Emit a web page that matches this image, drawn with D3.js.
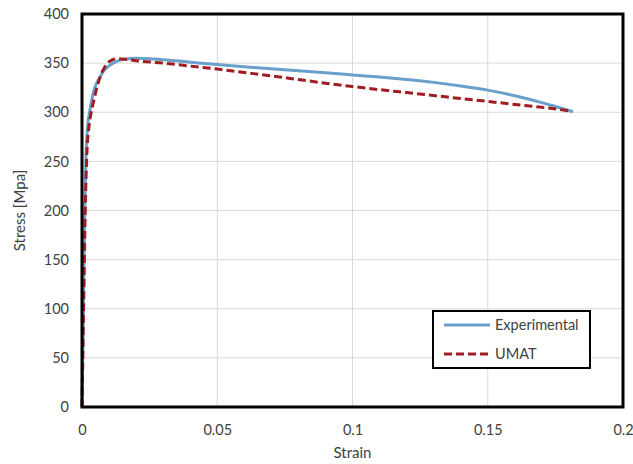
<!DOCTYPE html>
<html>
  <head>
    <meta charset="utf-8">
    <title>Stress-strain curve</title>
    <style>
      body { margin: 0; background: #fff; }
      text { font-family: Lato, "Open Sans", sans-serif; }
    </style>
  </head>
  <body>
    <div id="chart"></div>
    <script src="https://d3js.org/d3.v7.min.js"></script>
    <script>
// curve points: [strain, stress]
const experimental = [
  [0, 0], [0.0005, 100], [0.001, 200], [0.0015, 258], [0.002, 283], [0.003, 303],
  [0.004, 318], [0.005, 327], [0.0067, 336], [0.008, 342], [0.0104, 348],
  [0.013, 352], [0.016, 354], [0.02, 355], [0.025, 354.5], [0.03, 353.5],
  [0.04, 351], [0.05, 348.5], [0.06, 346.3], [0.07, 344.2], [0.08, 342.2], [0.09, 340.2],
  [0.1, 338], [0.11, 335.8], [0.12, 333.3], [0.13, 330.4], [0.14, 326.8], [0.15, 322.5],
  [0.16, 316.8], [0.17, 309.8], [0.175, 305.8], [0.1815, 300.5]
];
const umat = [
  [0, 0], [0.0006, 100], [0.0012, 200], [0.0018, 258], [0.0025, 283], [0.0034, 300],
  [0.0042, 310], [0.0055, 325], [0.0067, 336], [0.008, 344], [0.0091, 349],
  [0.011, 353], [0.0128, 354.5], [0.016, 354], [0.02, 352.5], [0.03, 350],
  [0.04, 347], [0.05, 344], [0.06, 340.5], [0.07, 337], [0.08, 333.3], [0.09, 329.6],
  [0.1, 326.2], [0.11, 323], [0.12, 320], [0.13, 317], [0.14, 314], [0.15, 311],
  [0.16, 308], [0.17, 305], [0.18, 301.5]
];
const xTicks = [0, 0.05, 0.1, 0.15, 0.2];
const yTicks = [0, 50, 100, 150, 200, 250, 300, 350, 400];
const seriesNames = ['Experimental', 'UMAT'];

const W = 633, H = 464;
const margin = { top: 14, right: 10, bottom: 57, left: 82 };

const svg = d3.select('#chart')
  .append('svg')
  .attr('width', W)
  .attr('height', H);

const x = d3.scaleLinear().domain([0, 0.2]).range([margin.left, W - margin.right]);
const y = d3.scaleLinear().domain([0, 400]).range([H - margin.bottom, margin.top]);

// gridlines
svg.append('g')
  .selectAll('line.h')
  .data(yTicks)
  .enter()
  .append('line')
  .attr('x1', x(0)).attr('x2', x(0.2))
  .attr('y1', d => y(d)).attr('y2', d => y(d))
  .attr('stroke', '#d9d9d9').attr('stroke-width', 1);

svg.append('g')
  .selectAll('line.v')
  .data(xTicks)
  .enter()
  .append('line')
  .attr('y1', y(0)).attr('y2', y(400))
  .attr('x1', d => x(d)).attr('x2', d => x(d))
  .attr('stroke', '#d9d9d9').attr('stroke-width', 1);

// axes (labels only)
const xAxis = svg.append('g')
  .attr('transform', `translate(0,${y(0)})`)
  .call(d3.axisBottom(x).tickValues(xTicks).tickFormat(d3.format('')).tickSize(0).tickPadding(18));
const yAxis = svg.append('g')
  .attr('transform', `translate(${x(0)},0)`)
  .call(d3.axisLeft(y).tickValues(yTicks).tickSize(0).tickPadding(13));
[xAxis, yAxis].forEach(a => {
  a.select('.domain').remove();
  a.selectAll('text').attr('fill', '#404040').style('font-size', '14.5px')
    .style('font-family', 'Lato, "Open Sans", sans-serif');
});

// lines
const line = d3.line().x(d => x(d[0])).y(d => y(d[1])).curve(d3.curveMonotoneX);

svg.append('path')
  .datum(experimental)
  .attr('fill', 'none')
  .attr('stroke', '#6a9fca')
  .attr('stroke-width', 3)
  .attr('d', line);

svg.append('path')
  .datum(umat)
  .attr('fill', 'none')
  .attr('stroke', '#a01c22')
  .attr('stroke-width', 3)
  .attr('stroke-dasharray', '8,4')
  .attr('d', line);

// plot frame
svg.append('rect')
  .attr('x', x(0)).attr('y', y(400))
  .attr('width', x(0.2) - x(0)).attr('height', y(0) - y(400))
  .attr('fill', 'none').attr('stroke', '#000').attr('stroke-width', 3);

// axis titles
svg.append('text')
  .attr('x', (x(0) + x(0.2)) / 2).attr('y', 458)
  .attr('text-anchor', 'middle')
  .attr('fill', '#404040').style('font-size', '15px')
  .text('Strain');
svg.append('text')
  .attr('transform', `translate(25,${(y(0) + y(400)) / 2}) rotate(-90)`)
  .attr('text-anchor', 'middle')
  .attr('fill', '#404040').style('font-size', '15px')
  .text('Stress [Mpa]');

// legend
const lg = svg.append('g').attr('transform', 'translate(433,311)');
lg.append('rect')
  .attr('width', 157).attr('height', 57)
  .attr('fill', '#fff').attr('stroke', '#000').attr('stroke-width', 2);
const styles = [
  { stroke: '#6a9fca', dash: null },
  { stroke: '#a01c22', dash: '8,4' }
];
seriesNames.forEach((name, i) => {
  const yy = 14 + i * 29;
  lg.append('line')
    .attr('x1', 11).attr('x2', 57).attr('y1', yy).attr('y2', yy)
    .attr('stroke', styles[i].stroke).attr('stroke-width', 3)
    .attr('stroke-dasharray', styles[i].dash);
  lg.append('text')
    .attr('x', 62).attr('y', yy + 5)
    .attr('fill', '#404040').style('font-size', '14.5px')
    .text(name);
});
    </script>
  </body>
</html>
